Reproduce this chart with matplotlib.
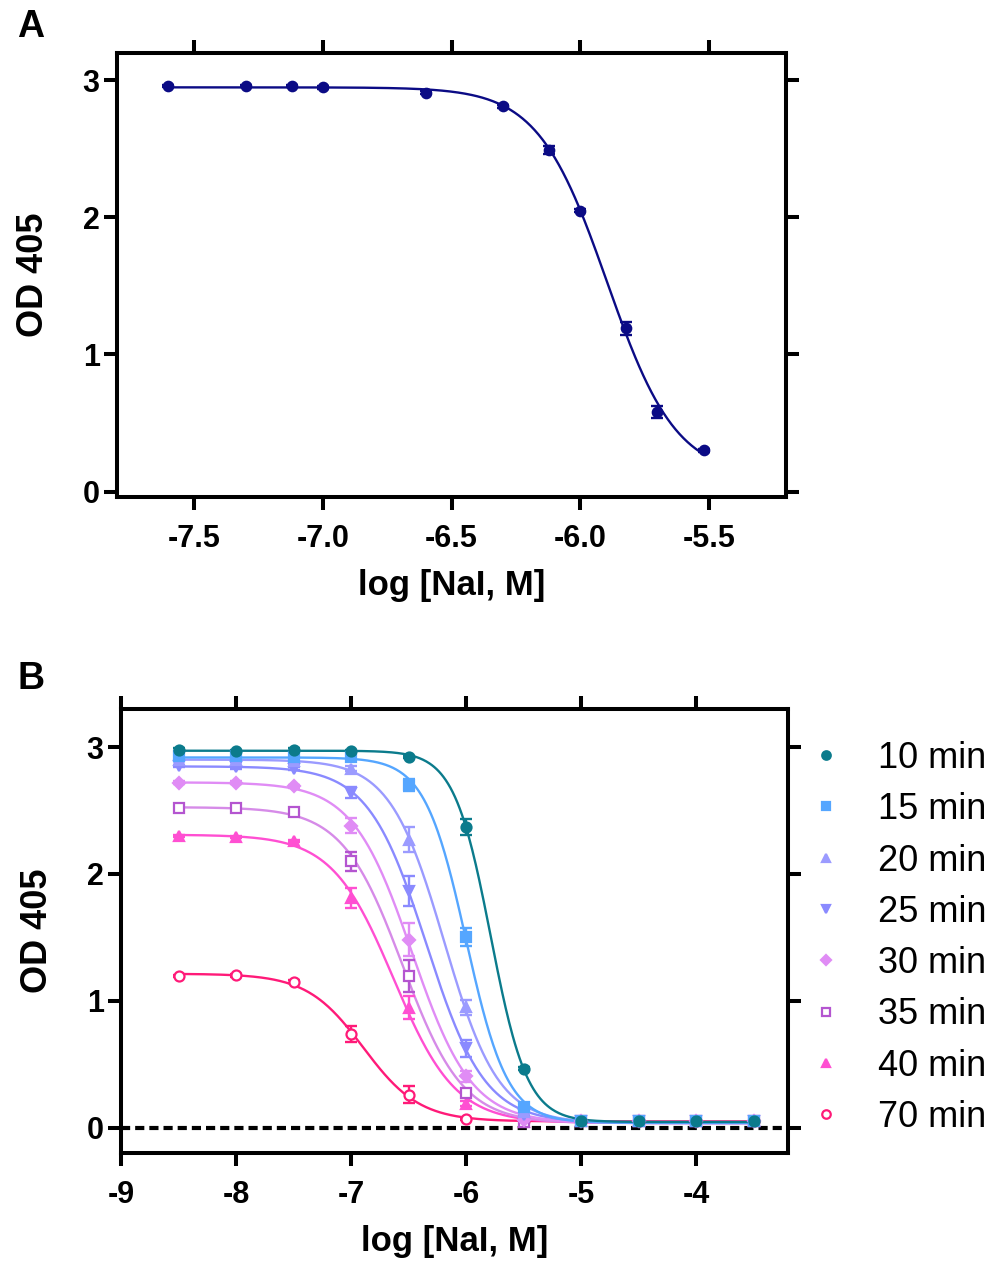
import numpy as np
import matplotlib
matplotlib.use('Agg')
import matplotlib.pyplot as plt
from matplotlib.lines import Line2D

plt.rcParams['font.family'] = ['Liberation Sans', 'DejaVu Sans']

# ---------------- Panel A data ----------------
a_logc = [-7.6, -7.3, -7.12, -7.0, -6.6, -6.3, -6.12, -6.0, -5.82, -5.7, -5.52]
a_od = [2.96, 2.96, 2.96, 2.95, 2.91, 2.81, 2.49, 2.05, 1.19, 0.58, 0.30]
a_err = [0.01, 0.01, 0.01, 0.01, 0.01, 0.01, 0.03, 0.01, 0.05, 0.045, 0.01]
a_xticks = [-7.5, -7.0, -6.5, -6.0, -5.5]
a_xticklabels = ['-7.5', '-7.0', '-6.5', '-6.0', '-5.5']
yticks = [0, 1, 2, 3]
yticklabels = ['0', '1', '2', '3']

# ---------------- Panel B data ----------------
b_logc = [-8.5, -8.0, -7.5, -7.0, -6.5, -6.0, -5.5, -5.0, -4.5, -4.0, -3.5]
b_labels = ['10 min', '15 min', '20 min', '25 min', '30 min', '35 min', '40 min', '70 min']
od_10 = [2.98, 2.97, 2.98, 2.97, 2.92, 2.37, 0.465, 0.05, 0.05, 0.05, 0.05]
od_15 = [2.93, 2.93, 2.92, 2.92, 2.70, 1.505, 0.16, 0.05, 0.05, 0.05, 0.05]
od_20 = [2.90, 2.895, 2.89, 2.83, 2.27, 0.95, 0.12, 0.05, 0.05, 0.05, 0.05]
od_25 = [2.85, 2.84, 2.83, 2.64, 1.865, 0.625, 0.10, 0.05, 0.05, 0.05, 0.05]
od_30 = [2.72, 2.72, 2.69, 2.38, 1.48, 0.405, 0.06, 0.05, 0.05, 0.05, 0.05]
od_35 = [2.52, 2.52, 2.49, 2.10, 1.195, 0.27, 0.045, 0.05, 0.05, 0.05, 0.05]
od_40 = [2.30, 2.29, 2.26, 1.81, 0.945, 0.19, 0.045, 0.05, 0.05, 0.05, 0.05]
od_70 = [1.195, 1.20, 1.15, 0.74, 0.26, 0.068, 0.05, 0.05, 0.05, 0.05, 0.05]
err_10 = [0.01, 0.01, 0.01, 0.01, 0.01, 0.06, 0.01, 0.01, 0.01, 0.01, 0.01]
err_15 = [0.01, 0.01, 0.01, 0.01, 0.045, 0.07, 0.01, 0.01, 0.01, 0.01, 0.01]
err_20 = [0.01, 0.01, 0.01, 0.02, 0.10, 0.06, 0.01, 0.01, 0.01, 0.01, 0.01]
err_25 = [0.01, 0.01, 0.01, 0.045, 0.12, 0.065, 0.01, 0.01, 0.01, 0.01, 0.01]
err_30 = [0.01, 0.01, 0.01, 0.06, 0.13, 0.045, 0.01, 0.01, 0.01, 0.01, 0.01]
err_35 = [0.01, 0.01, 0.01, 0.075, 0.125, 0.02, 0.01, 0.01, 0.01, 0.01, 0.01]
err_40 = [0.01, 0.01, 0.01, 0.08, 0.09, 0.02, 0.01, 0.01, 0.01, 0.01, 0.01]
err_70 = [0.01, 0.01, 0.01, 0.065, 0.065, 0.01, 0.01, 0.01, 0.01, 0.01, 0.01]
b_xticks = [-9, -8, -7, -6, -5, -4]
b_xticklabels = ['-9', '-8', '-7', '-6', '-5', '-4']

b_od = [od_10, od_15, od_20, od_25, od_30, od_35, od_40, od_70]
b_err = [err_10, err_15, err_20, err_25, err_30, err_35, err_40, err_70]
b_colors = ['#0b7b8c', '#55a6ff', '#9b9bff', '#8a8aff', '#e08cf5', '#b455d0', '#ff4fd2', '#ff1a78']
b_line_colors = ['#0b7b8c', '#55a6ff', '#9b9bff', '#8a8aff', '#e08cf5', '#d68be8', '#ff4fd2', '#ff1a78']
b_markers = ['o', 's', '^', 'v', 'D', 's', '^', 'o']
b_filled = [True, True, True, True, True, False, True, False]
b_msize = [7.2, 6.8, 7.4, 7.4, 6.2, 7.2, 7.4, 7.2]

a_color = '#0b0b85'


def fit4pl(x, y):
    """Fit y = bottom + span / (1 + 10**((x - c) * h)) by grid search."""
    x = np.asarray(x, float)
    y = np.asarray(y, float)
    n = len(x)

    def search(cs, hs):
        C, H = np.meshgrid(cs, hs, indexing='ij')
        C = C.ravel()[:, None]
        H = H.ravel()[:, None]
        s = 1.0 / (1.0 + 10.0 ** ((x[None, :] - C) * H))
        Ss = s.sum(1)
        Sss = (s * s).sum(1)
        Ssy = (s * y[None, :]).sum(1)
        Sy = y.sum()
        den = n * Sss - Ss ** 2
        den = np.where(np.abs(den) < 1e-12, 1e-12, den)
        k = (n * Ssy - Ss * Sy) / den
        b = (Sy - k * Ss) / n
        r = ((b[:, None] + k[:, None] * s - y[None, :]) ** 2).sum(1)
        i = np.argmin(r)
        return C[i, 0], H[i, 0], b[i], k[i]

    c, h, b, k = search(np.linspace(x.min() - 0.5, x.max() + 0.5, 500),
                        np.linspace(0.3, 8, 300))
    c, h, b, k = search(np.linspace(c - 0.02, c + 0.02, 200),
                        np.linspace(max(0.2, h - 0.05), h + 0.05, 200))
    return c, h, b, k


def curve(params, xs):
    c, h, b, k = params
    return b + k / (1.0 + 10.0 ** ((xs - c) * h))


SPW = 2.9  # spine width, pt


def style_axes(ax):
    for sp in ax.spines.values():
        sp.set_linewidth(SPW)
        sp.set_color('black')
    ax.tick_params(axis='both', which='major', direction='out', length=9.5,
                   width=SPW, top=True, right=True, labeltop=False,
                   labelright=False, color='black')
    ax.tick_params(axis='x', pad=10)
    ax.tick_params(axis='y', pad=3)


fig = plt.figure(figsize=(9.96, 12.65), dpi=100)
W, Hf = 996.0, 1265.0

# ---------------- Panel A ----------------
axA = fig.add_axes([117 / W, 1 - 497 / Hf, 669 / W, 444 / Hf])
style_axes(axA)
pA = fit4pl(a_logc, a_od)
xsA = np.linspace(min(a_logc), max(a_logc), 400)
axA.plot(xsA, curve(pA, xsA), color=a_color, lw=1.7, zorder=3)
axA.errorbar(a_logc, a_od, yerr=a_err, fmt='none', ecolor=a_color,
             elinewidth=1.7, capsize=4.5, capthick=1.7, zorder=4)
axA.plot(a_logc, a_od, linestyle='none', marker='o', ms=7.4,
         color=a_color, zorder=5)
axA.set_xlim(-7.8, -5.2)
axA.set_ylim(-0.04, 3.2)
axA.set_xticks(a_xticks, labels=a_xticklabels, fontsize=22, fontweight='bold')
axA.set_yticks(yticks, labels=yticklabels, fontsize=22, fontweight='bold')
axA.set_xlabel('log [NaI, M]', fontsize=25, fontweight='bold', labelpad=11)
axA.set_ylabel('OD 405', fontsize=26, fontweight='bold', labelpad=23)

# ---------------- Panel B ----------------
axB = fig.add_axes([121 / W, 1 - 1153 / Hf, 667 / W, 444 / Hf])
style_axes(axB)
axB.axhline(0, color='black', lw=3.0, ls=(0, (2.2, 1.2)), zorder=1)
xsB = np.linspace(min(b_logc), max(b_logc), 500)
order = list(range(len(b_labels)))[::-1]
for i in order:
    col = b_colors[i]
    p = fit4pl(b_logc, b_od[i])
    axB.plot(xsB, curve(p, xsB), color=b_line_colors[i], lw=1.7, zorder=3)
    axB.errorbar(b_logc, b_od[i], yerr=b_err[i], fmt='none', ecolor=col,
                 elinewidth=1.7, capsize=4.5, capthick=1.7, zorder=4)
    axB.plot(b_logc, b_od[i], linestyle='none', marker=b_markers[i],
             ms=b_msize[i], markeredgecolor=col,
             markerfacecolor=col if b_filled[i] else 'white',
             markeredgewidth=1.6, zorder=5)
axB.set_xlim(-9.0, -3.2)
axB.set_ylim(-0.2, 3.3)
axB.set_xticks(b_xticks, labels=b_xticklabels, fontsize=22, fontweight='bold')
axB.set_yticks(yticks, labels=yticklabels, fontsize=22, fontweight='bold')
axB.set_xlabel('log [NaI, M]', fontsize=25, fontweight='bold', labelpad=11)
axB.set_ylabel('OD 405', fontsize=26, fontweight='bold', labelpad=23)

# ---------------- Legend (manual, right of panel B) ----------------
for i, lab in enumerate(b_labels):
    yc = 755 + i * 51.3
    col = b_colors[i]
    fig.add_artist(Line2D([826 / W], [1 - yc / Hf], transform=fig.transFigure,
                          linestyle='none', marker=b_markers[i],
                          ms=b_msize[i] * 0.85, markeredgecolor=col,
                          markerfacecolor=col if b_filled[i] else 'white',
                          markeredgewidth=1.6))
    fig.text(878 / W, 1 - (yc + 13) / Hf, lab, fontsize=26, fontweight='normal',
             ha='left', va='baseline')

# Panel letters
fig.text(17 / W, 1 - 37 / Hf, 'A', fontsize=27, fontweight='bold', ha='left', va='baseline')
fig.text(18 / W, 1 - 689 / Hf, 'B', fontsize=27, fontweight='bold', ha='left', va='baseline')

fig.savefig('out.png', dpi=100)
